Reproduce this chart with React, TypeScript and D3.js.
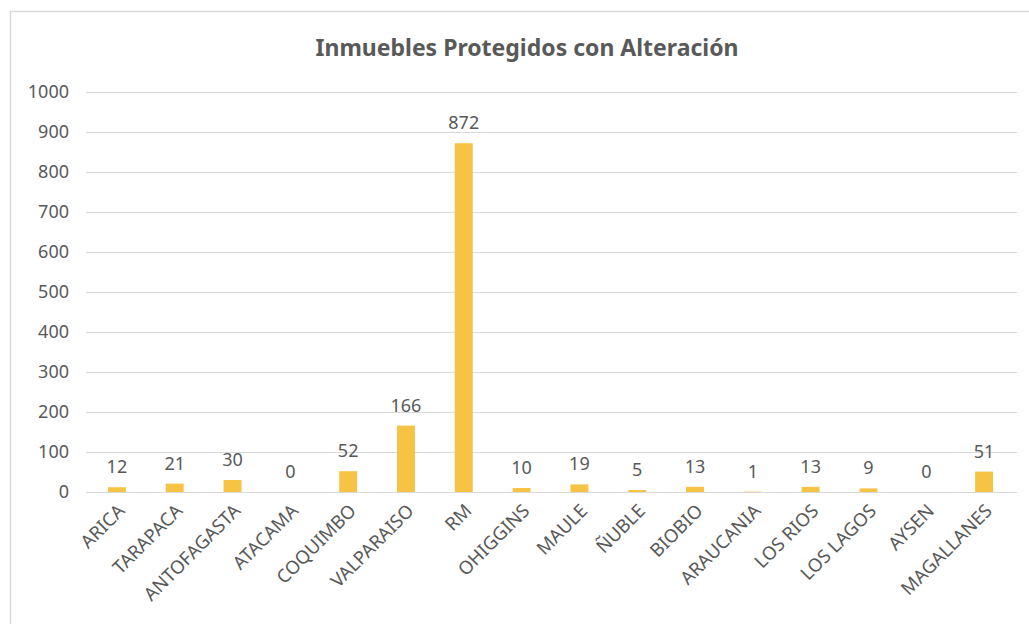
import { useEffect, useRef } from 'react'
import * as d3 from 'd3'

const W = 1029, H = 624
const M = { top: 92, right: 12, bottom: 132, left: 86 }

const regions = ['ARICA', 'TARAPACA', 'ANTOFAGASTA', 'ATACAMA', 'COQUIMBO', 'VALPARAISO', 'RM', 'OHIGGINS',
  'MAULE', 'ÑUBLE', 'BIOBIO', 'ARAUCANIA', 'LOS RIOS', 'LOS LAGOS', 'AYSEN', 'MAGALLANES']
const counts = [12, 21, 30, 0, 52, 166, 872, 10, 19, 5, 13, 1, 13, 9, 0, 51]
const yTicks = [0, 100, 200, 300, 400, 500, 600, 700, 800, 900, 1000]

const FONT = '"Noto Sans", "Open Sans", sans-serif'
const TEXT = '#595959'

export default function App() {
  const svgRef = useRef<SVGSVGElement>(null)

  useEffect(() => {
    const svg = d3.select(svgRef.current!)
    svg.selectAll('*').remove()

    const iw = W - M.left - M.right
    const ih = H - M.top - M.bottom

    svg.append('rect').attr('width', W).attr('height', H).attr('fill', '#fff')
    // chart frame
    svg.append('rect').attr('x', 10.5).attr('y', 11.5).attr('width', W + 10).attr('height', H + 10)
      .attr('fill', 'none').attr('stroke', '#d9d9d9').attr('stroke-width', 1.5)

    svg.append('text').attr('x', 527).attr('y', 56).attr('text-anchor', 'middle')
      .attr('font-family', FONT).attr('font-weight', 700).attr('font-size', 23)
      .attr('fill', TEXT).text('Inmuebles Protegidos con Alteración')

    const x = d3.scaleBand<string>().domain(regions).range([2, iw - 4])
      .paddingInner(0.69).paddingOuter(0.345)
    const y = d3.scaleLinear().domain([0, 1000]).range([ih, 0])

    const g = svg.append('g').attr('transform', `translate(${M.left},${M.top})`)

    // gridlines
    g.selectAll('line.grid').data(yTicks).join('line')
      .attr('x1', 0).attr('x2', iw)
      .attr('y1', d => Math.round(y(d)) + 0.5).attr('y2', d => Math.round(y(d)) + 0.5)
      .attr('stroke', '#d9d9d9').attr('stroke-width', 1)

    g.selectAll('text.ytick').data(yTicks).join('text')
      .attr('x', -17).attr('y', d => y(d)).attr('dy', '0.35em')
      .attr('text-anchor', 'end').attr('font-family', FONT).attr('font-size', 18)
      .attr('fill', TEXT).text(d => d)

    // bars
    g.selectAll('rect.bar').data(counts).join('rect')
      .attr('x', (_, i) => x(regions[i])!)
      .attr('y', d => y(d))
      .attr('width', x.bandwidth())
      .attr('height', d => ih - y(d))
      .attr('fill', '#f6c344')

    // value labels
    g.selectAll('text.val').data(counts).join('text')
      .attr('x', (_, i) => x(regions[i])! + x.bandwidth() / 2)
      .attr('y', d => y(d) - 14)
      .attr('text-anchor', 'middle').attr('font-family', FONT).attr('font-size', 18)
      .attr('fill', TEXT).text(d => d)

    // category labels, rotated
    g.selectAll('text.cat').data(regions).join('text')
      .attr('transform', d => `translate(${x(d)! + x.bandwidth() / 2 + 9},${ih + 20}) rotate(-45)`)
      .attr('text-anchor', 'end').attr('font-family', FONT).attr('font-size', 18.5)
      .attr('fill', TEXT).text(d => d)
  }, [])

  return (
    <svg ref={svgRef} width={W} height={H}
      style={{ position: 'absolute', left: 0, top: 0, display: 'block' }}
      viewBox={`0 0 ${W} ${H}`} />
  )
}
